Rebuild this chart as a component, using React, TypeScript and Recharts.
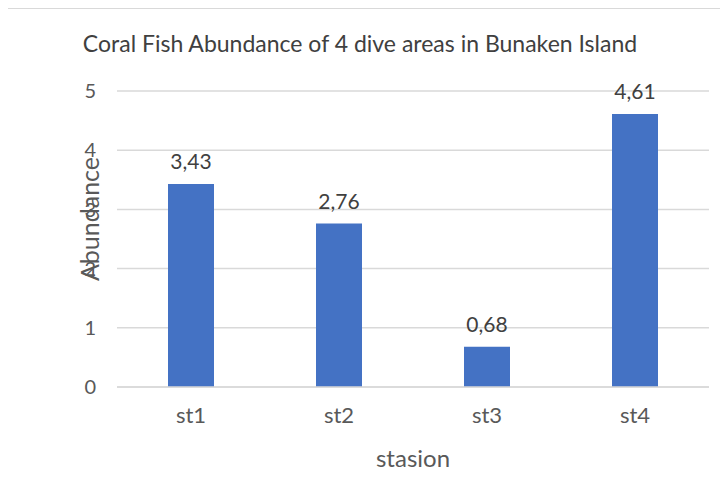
import { Bar, BarChart, CartesianGrid, Label, LabelList, XAxis, YAxis } from "recharts";

const stations = ["st1", "st2", "st3", "st4"];
const abundance = [3.43, 2.76, 0.68, 4.61];
const yTicks = [0, 1, 2, 3, 4, 5];

const data = stations.map((station, i) => ({ station, abundance: abundance[i] }));

const FONT = "Lato, 'Open Sans', sans-serif";

function YTitle({ viewBox }: any) {
  const x = viewBox.x + 32;
  const y = viewBox.y + viewBox.height / 2 - 20;
  return (
    <text
      x={x}
      y={y}
      transform={`rotate(-90, ${x}, ${y})`}
      textAnchor="middle"
      dominantBaseline="central"
      fill="#595959"
      fontSize={25}
      fontFamily={FONT}
    >
      Abundance
    </text>
  );
}

export default function App() {
  return (
    <div
      style={{
        position: "relative",
        width: 728,
        height: 500,
        border: "1px solid #d9d9d9",
        marginLeft: -1,
        background: "#fff",
        fontFamily: FONT,
      }}
    >
      <div
        style={{
          position: "absolute",
          top: 20,
          left: 0,
          width: 704,
          textAlign: "center",
          fontSize: 23,
          color: "#404040",
        }}
      >
        Coral Fish Abundance of 4 dive areas in Bunaken Island
      </div>
      <BarChart
        width={720}
        height={490}
        data={data}
        margin={{ top: 82, right: 19, bottom: 27, left: 49 }}
        style={{ position: "absolute", top: 0, left: 0 }}
      >
        <CartesianGrid vertical={false} stroke="#d9d9d9" strokeWidth={1.5} />
        <XAxis
          dataKey="station"
          axisLine={{ stroke: "#d9d9d9", strokeWidth: 1.5 }}
          tickLine={false}
          tickSize={0}
          tickMargin={20}
          height={85}
          tick={{ fill: "#595959", fontSize: 22, fontFamily: FONT }}
        >
          <Label
            value="stasion"
            position="insideBottom"
            offset={5}
            fill="#595959"
            fontSize={24}
            fontFamily={FONT}
          />
        </XAxis>
        <YAxis
          domain={[0, 5]}
          ticks={yTicks}
          axisLine={false}
          tickLine={false}
          tickSize={0}
          tickMargin={21}
          width={60}
          tick={{ fill: "#595959", fontSize: 20, fontFamily: FONT }}
        >
          <Label content={<YTitle />} />
        </YAxis>
        <Bar dataKey="abundance" fill="#4472C4" barSize={46} isAnimationActive={false}>
          <LabelList
            dataKey="abundance"
            position="top"
            offset={15}
            fill="#404040"
            fontSize={21}
            fontFamily={FONT}
            formatter={(v: any) => String(v).replace(".", ",")}
          />
        </Bar>
      </BarChart>
    </div>
  );
}
